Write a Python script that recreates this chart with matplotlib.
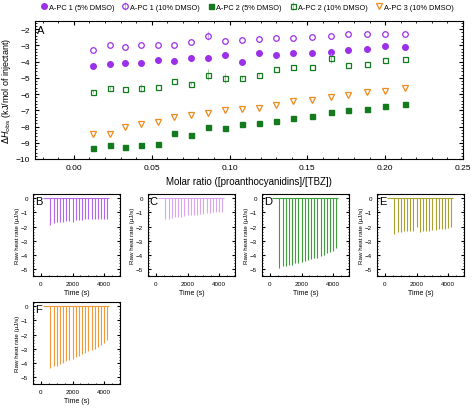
import matplotlib
matplotlib.use("Agg")
import matplotlib.pyplot as plt

plt.rcParams["font.family"] = ["Liberation Sans", "DejaVu Sans"]

# molar ratio for each injection
ratio = [0.0125, 0.023, 0.033, 0.043, 0.054, 0.064, 0.075, 0.086, 0.097, 0.108,
         0.119, 0.130, 0.141, 0.153, 0.165, 0.176, 0.188, 0.200, 0.2125]

apc1_5 = [-4.25, -4.15, -4.1, -4.1, -3.9, -3.95, -3.75, -3.8, -3.6, -4.05,
          -3.5, -3.6, -3.5, -3.5, -3.4, -3.3, -3.25, -3.05, -3.1]
apc1_10 = [-3.3, -2.95, -3.1, -3.0, -2.95, -3.0, -2.8, -2.4, -2.75, -2.7,
           -2.6, -2.55, -2.55, -2.5, -2.45, -2.3, -2.3, -2.3, -2.3]
apc2_5 = [-9.3, -9.15, -9.25, -9.15, -9.1, -8.4, -8.5, -8.05, -8.1, -7.85,
          -7.8, -7.65, -7.45, -7.35, -7.1, -7.0, -6.9, -6.75, -6.6]
apc2_10 = [-5.85, -5.65, -5.7, -5.6, -5.55, -5.2, -5.35, -4.8, -5.0, -5.0,
           -4.8, -4.45, -4.35, -4.35, -3.8, -4.2, -4.15, -3.9, -3.85]
apc3_10 = [-8.45, -8.45, -8.05, -7.85, -7.7, -7.4, -7.3, -7.15, -7.0, -6.95,
           -6.85, -6.65, -6.45, -6.35, -6.2, -6.05, -5.9, -5.8, -5.65]

# error bars (only a few are visible)
err1_10 = [0, 0, 0, 0, 0, 0, 0, 0.3, 0, 0, 0, 0, 0, 0, 0, 0, 0, 0, 0]
err2_10 = [0.1, 0.1, 0, 0.25, 0, 0, 0.1, 0.35, 0.3, 0.1, 0.1, 0, 0, 0, 0.3, 0, 0, 0, 0]

# raw ITC traces: injection times and peak depths
inj_time = [600, 800, 1000, 1200, 1400, 1600, 1800, 2000, 2200, 2400,
            2600, 2800, 3000, 3200, 3400, 3600, 3800, 4000, 4200]
peak_b = [-1.9, -1.75, -1.7, -1.7, -1.65, -1.6, -1.6, -1.7, -1.55, -1.55,
          -1.55, -1.5, -1.5, -1.5, -1.5, -1.5, -1.5, -1.5, -1.5]
peak_c = [-1.5, -1.45, -1.4, -1.35, -1.3, -1.3, -1.25, -1.2, -1.2, -1.15,
          -1.15, -1.1, -1.1, -1.05, -1.05, -1.0, -1.0, -1.0, -1.0]
peak_d = [-4.9, -4.8, -4.8, -4.75, -4.7, -4.6, -4.6, -4.5, -4.45, -4.4,
          -4.3, -4.25, -4.2, -4.1, -4.0, -3.9, -3.8, -3.7, -3.5]
peak_e = [-2.5, -2.4, -2.4, -2.35, -2.35, -2.3, -2.3, -2.0, -2.4, -2.35,
          -2.3, -2.3, -2.25, -2.25, -2.2, -2.2, -2.15, -2.1, -2.0]
peak_f = [-4.35, -4.25, -4.2, -4.1, -4.0, -3.9, -3.8, -3.7, -3.6, -3.5,
          -3.4, -3.3, -3.2, -3.1, -3.0, -2.9, -2.75, -2.6, -2.4]

purple = "#9b30e8"
green = "#137a1e"
orange = "#f08a1c"

fig = plt.figure(figsize=(4.74, 4.10), dpi=100)

ax = fig.add_axes([35 / 474, 1 - 160 / 410, 428 / 474, 138 / 410])
h1, = ax.plot(ratio, apc1_5, "o", color=purple, ms=4, label="A-PC 1 (5% DMSO)")
h2 = ax.errorbar(ratio, apc1_10, yerr=err1_10, fmt="o", mfc="none", mec=purple,
                 ecolor="#c9a0f0", ms=4, mew=0.9, elinewidth=0.6, label="A-PC 1 (10% DMSO)")
h3, = ax.plot(ratio, apc2_5, "s", color=green, ms=3.6, label="A-PC 2 (5% DMSO)")
h4 = ax.errorbar(ratio, apc2_10, yerr=err2_10, fmt="s", mfc="none", mec=green,
                 ecolor="#90c090", ms=3.6, mew=0.9, elinewidth=0.6, label="A-PC 2 (10% DMSO)")
h5, = ax.plot(ratio, apc3_10, "v", mfc="none", mec=orange, ms=4.5, mew=0.9,
              linestyle="none", label="A-PC 3 (10% DMSO)")
ax.set_xlim(-0.025, 0.25)
ax.set_ylim(-10, -1.5)
ax.set_xticks([0.0, 0.05, 0.10, 0.15, 0.20, 0.25])
ax.set_xticklabels(["0.00", "0.05", "0.10", "0.15", "0.20", "0.25"])
ax.set_yticks(range(-10, -1))
ax.minorticks_on()
ax.tick_params(which="both", direction="in", top=True, right=True, labelsize=6)
ax.tick_params(which="major", length=3)
ax.tick_params(which="minor", length=1.5)
ax.set_xlabel("Molar ratio ([proanthocyanidins]/[TBZ])", fontsize=7)
ax.set_ylabel(r"$\Delta H_{\rm obs}$ (kJ/mol of injectant)", fontsize=6.5, labelpad=2)
ax.text(0.005, 0.97, "A", transform=ax.transAxes, fontsize=8, va="top")
fig.legend([h1, h2, h3, h4, h5], [h.get_label() for h in [h1, h2, h3, h4, h5]],
           loc="upper center", bbox_to_anchor=(0.52, 1.005), ncol=5, fontsize=5.3,
           frameon=False, handletextpad=0.1, columnspacing=0.9, handlelength=1.2)

panels = [("B", peak_b, "#b566ee", 33, 195),
          ("C", peak_c, "#dba5f2", 148, 195),
          ("D", peak_d, "#3e9e3e", 262, 195),
          ("E", peak_e, "#a8a030", 377, 195),
          ("F", peak_f, "#f29a3a", 33, 303)]

for name, peaks, col, left, top in panels:
    sub = fig.add_axes([left / 474, 1 - (top + 82) / 410, 87 / 474, 82 / 410])
    sub.hlines(0, 150, 4300, color=col, lw=0.8)
    sub.vlines(inj_time, peaks, 0, color=col, lw=0.8)
    sub.set_xlim(-500, 5000)
    sub.set_ylim(-5.5, 0.3)
    sub.set_xticks([0, 2000, 4000])
    sub.set_yticks([-5, -4, -3, -2, -1, 0])
    sub.minorticks_on()
    sub.tick_params(which="both", direction="in", right=True, labelsize=4.5)
    sub.tick_params(which="major", length=2)
    sub.tick_params(which="minor", length=1)
    sub.set_xlabel("Time (s)", fontsize=5, labelpad=2)
    sub.set_ylabel("Raw heat rate (\u03bcJ/s)", fontsize=4.5, labelpad=1)
    sub.text(0.02, 0.98, name, transform=sub.transAxes, fontsize=8, va="top")

fig.savefig("out.png", dpi=100)
